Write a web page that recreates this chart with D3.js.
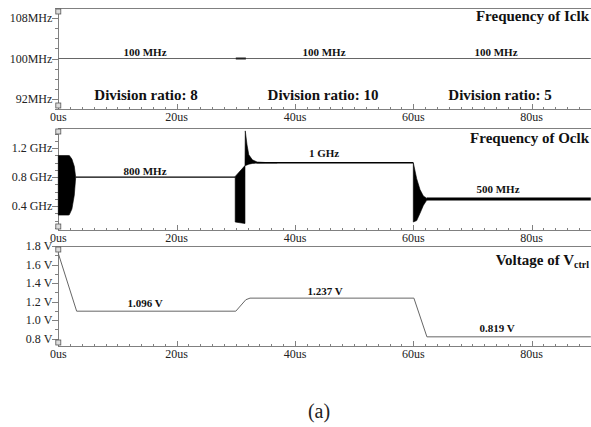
<!DOCTYPE html>
<html>
<head>
<meta charset="utf-8">
<script src="https://cdn.jsdelivr.net/npm/d3@7"></script>
<style>
body { margin: 0; background: #fff; }
svg text { font-family: "Times New Roman", "Liberation Serif", Times, "DejaVu Serif", serif; }
.frame { stroke: #808080; stroke-width: 1; fill: none; shape-rendering: crispEdges; }
.tick { stroke: #808080; stroke-width: 1; shape-rendering: crispEdges; }
.ticklabel { font-size: 12px; fill: #222; }
.title { font-size: 15px; font-weight: bold; fill: #111; }
.note { font-size: 11px; font-weight: bold; fill: #111; }
.ratio { font-size: 15px; font-weight: bold; fill: #111; }
</style>
</head>
<body>
<script>
// x axis (us)
var timeTicks = [0, 20, 40, 60, 80];

// y ticks of each panel
var iclkTicks = [92, 100, 108];
var oclkTicks = [0.4, 0.8, 1.2];
var vctrlTicks = [0.8, 1.0, 1.2, 1.4, 1.6, 1.8];

// input clock frequency (MHz)
var iclkT = [0, 90];
var iclkF = [100, 100];
var iclkBlipT = [30, 31.7];

// output clock frequency (GHz), settled parts
var oclk800T = [2.94, 29.9], oclk800F = [0.8, 0.8];
var oclk1gT = [33.5, 60.0], oclk1gF = [1.0, 1.0];
var oclk500T = [62.3, 90], oclk500F = [0.5, 0.5];

// output clock, oscillation envelopes (upper / lower)
var envAT = [0, 1.7, 1.86, 2.3, 2.7, 2.94];
var envAHi = [1.10, 1.10, 1.10, 1.05, 0.95, 0.8];
var envALo = [0.276, 0.276, 0.28, 0.36, 0.55, 0.8];
var envBT = [29.9, 31.55];
var envBHi = [0.81, 0.96];
var envBLo = [0.18, 0.16];
var envSpikeT = [31.55, 31.6, 31.9, 32.2, 32.8, 33.6, 35, 37];
var envSpikeHi = [0.96, 1.44, 1.245, 1.11, 1.04, 1.01, 1.003, 1.0];
var envSpikeLo = [0.96, 0.96, 0.97, 0.98, 0.99, 0.995, 0.997, 1.0];
var envCT = [60.0, 60.57, 61.13, 61.7, 62.26, 62.5];
var envCHi = [1.0, 0.78, 0.63, 0.54, 0.51, 0.505];
var envCLo = [0.18, 0.2, 0.3, 0.41, 0.48, 0.495];

// control voltage (V)
var vctrlT = [0, 3.1, 30, 31.7, 32.4, 60.1, 62.3, 90];
var vctrlV = [1.72, 1.096, 1.096, 1.22, 1.237, 1.237, 0.819, 0.819];

var svg = d3.select("body").append("svg")
	.attr("width", 591)
	.attr("height", 427);

var x = d3.scaleLinear().domain([0, 90]).range([58.3, 590.8]);

function zip(ts, vs) {
	return ts.map(function(t, i) { return [t, vs[i]]; });
}
function zip3(ts, hi, lo) {
	return ts.map(function(t, i) { return {t: t, hi: hi[i], lo: lo[i]}; });
}

function makePanel(top, bottom, domain, ticks, minorStep, fmt) {
	var y = d3.scaleLinear().domain(domain).range([bottom, top]);
	var g = svg.append("g");
	var x0 = x.range()[0];

	// top border and axes
	g.append("line").classed("frame", true)
		.attr("x1", x0).attr("x2", 591).attr("y1", top + 0.5).attr("y2", top + 0.5);
	g.append("line").classed("frame", true)
		.attr("x1", x0).attr("x2", 591).attr("y1", bottom + 0.5).attr("y2", bottom + 0.5);
	g.append("line").classed("frame", true)
		.attr("x1", x0 + 0.5).attr("x2", x0 + 0.5).attr("y1", top).attr("y2", bottom);

	// x ticks, pointing up from the bottom line
	var minorX = d3.range(0, 91, 2);
	g.selectAll("line.xminor").data(minorX).enter()
		.append("line").classed("tick", true)
		.attr("x1", function(d) { return Math.round(x(d)) + 0.5; })
		.attr("x2", function(d) { return Math.round(x(d)) + 0.5; })
		.attr("y1", bottom)
		.attr("y2", function(d) { return d % 20 === 0 ? bottom - 5 : bottom - 2; });
	g.selectAll("text.xlab").data(timeTicks).enter()
		.append("text").classed("ticklabel", true)
		.attr("x", function(d) { return x(d); })
		.attr("y", bottom + 12)
		.attr("text-anchor", "middle")
		.text(function(d) { return d + "us"; });

	// y ticks, pointing left
	var minorY = d3.range(domain[0] - (domain[0] % minorStep), domain[1] + minorStep / 2, minorStep)
		.filter(function(d) { return d >= domain[0] - 1e-9 && d <= domain[1] + 1e-9; });
	g.selectAll("line.yminor").data(minorY).enter()
		.append("line").classed("tick", true)
		.attr("x1", x0 - 3).attr("x2", x0)
		.attr("y1", function(d) { return Math.round(y(d)) + 0.5; })
		.attr("y2", function(d) { return Math.round(y(d)) + 0.5; });
	g.selectAll("line.ymajor").data(ticks).enter()
		.append("line").classed("tick", true)
		.attr("x1", x0 - 6).attr("x2", x0)
		.attr("y1", function(d) { return Math.round(y(d)) + 0.5; })
		.attr("y2", function(d) { return Math.round(y(d)) + 0.5; });
	g.selectAll("text.ylab").data(ticks).enter()
		.append("text").classed("ticklabel", true)
		.attr("x", x0 - 6)
		.attr("y", function(d) { return y(d); })
		.attr("dy", "0.35em")
		.attr("text-anchor", "end")
		.text(fmt);

	// little scroll markers on the y axis
	[top + 1, bottom - 6].forEach(function(yy) {
		g.append("rect")
			.attr("x", x0 - 2.5).attr("y", yy)
			.attr("width", 5).attr("height", 5)
			.style("fill", "#ddd").style("stroke", "#555").style("stroke-width", 0.8);
	});

	return {g: g, y: y};
}

function drawLine(p, pts, color, width) {
	var line = d3.line()
		.x(function(d) { return x(d[0]); })
		.y(function(d) { return p.y(d[1]); });
	p.g.append("path")
		.attr("d", line(pts))
		.style("fill", "none")
		.style("stroke", color)
		.style("stroke-width", width);
}

function drawEnv(p, pts) {
	var area = d3.area()
		.x(function(d) { return x(d.t); })
		.y0(function(d) { return p.y(d.lo); })
		.y1(function(d) { return p.y(d.hi); });
	p.g.append("path")
		.attr("d", area(pts))
		.style("fill", "#000")
		.style("stroke", "#000")
		.style("stroke-width", 0.6);
}

function label(p, cls, xx, yy, txt, anchor) {
	return p.g.append("text").classed(cls, true)
		.attr("x", xx).attr("y", yy)
		.attr("text-anchor", anchor || "middle")
		.text(txt);
}

// panel 1: Iclk
var p1 = makePanel(8, 109, [90, 110], iclkTicks, 2, function(d) { return d + "MHz"; });
drawLine(p1, zip(iclkT, iclkF), "#666", 1);
drawLine(p1, zip(iclkBlipT, [100, 100]), "#222", 2);
label(p1, "title", 589, 21, "Frequency of Iclk", "end");
label(p1, "note", 145, 56, "100 MHz");
label(p1, "note", 324, 56, "100 MHz");
label(p1, "note", 496, 56, "100 MHz");
label(p1, "ratio", 146, 100, "Division ratio: 8");
label(p1, "ratio", 323, 100, "Division ratio: 10");
label(p1, "ratio", 500, 100, "Division ratio: 5");

// panel 2: Oclk
var p2 = makePanel(128, 230, [0.07, 1.48], oclkTicks, 0.1, function(d) { return d3.format(".1f")(d) + " GHz"; });
drawEnv(p2, zip3(envAT, envAHi, envALo));
drawEnv(p2, zip3(envBT, envBHi, envBLo));
drawEnv(p2, zip3(envSpikeT, envSpikeHi, envSpikeLo));
drawEnv(p2, zip3(envCT, envCHi, envCLo));
drawLine(p2, zip(oclk800T, oclk800F), "#000", 1.2);
drawLine(p2, zip(oclk1gT, oclk1gF), "#000", 1.5);
drawLine(p2, zip(oclk500T, oclk500F), "#000", 3);
label(p2, "title", 589, 143, "Frequency of Oclk", "end");
label(p2, "note", 145, 175, "800 MHz");
label(p2, "note", 324, 157, "1 GHz");
label(p2, "note", 498, 193, "500 MHz");

// panel 3: Vctrl
var p3 = makePanel(246, 346, [0.72, 1.8], vctrlTicks, 0.1, function(d) { return d.toFixed(1) + " V"; });
drawLine(p3, zip(vctrlT, vctrlV), "#666", 1);
var t3 = label(p3, "title", 589, 265, "Voltage of V", "end");
t3.append("tspan").attr("dy", 3).style("font-size", "10px").text("ctrl");
label(p3, "note", 145, 307, "1.096 V");
label(p3, "note", 325, 295, "1.237 V");
label(p3, "note", 497, 332, "0.819 V");

// caption
svg.append("text")
	.attr("x", 319).attr("y", 418)
	.attr("text-anchor", "middle")
	.style("font-size", "20px")
	.style("fill", "#222")
	.text("(a)");
</script>
</body>
</html>
